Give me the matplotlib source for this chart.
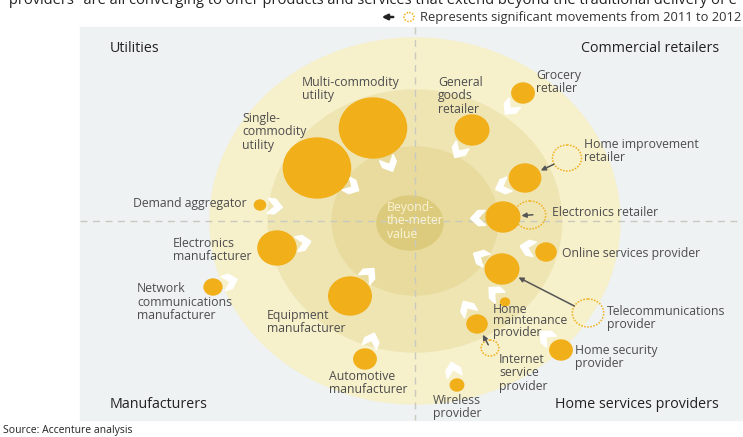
import matplotlib
matplotlib.use('Agg')
import matplotlib.pyplot as plt
from matplotlib.patches import Ellipse, Rectangle, Polygon, FancyArrowPatch
import numpy as np

plt.rcParams['font.family'] = ['Open Sans', 'DejaVu Sans']

# picture is a bit wider than tall: horizontal stretch of every circle
K = 1.12
cx, cy = 415, 221

# bubbles: current positions (x, y, radius)
bx = [373, 317, 260, 277, 213, 350, 365, 472, 523, 525, 503, 546, 502, 505, 477, 561, 457]
by = [128, 168, 205, 248, 287, 296, 359, 130, 93, 178, 217, 252, 269, 302, 324, 350, 385]
br = [30, 30, 5, 17, 8, 19, 10, 15, 10, 14, 15, 9, 15, 4, 9, 10, 6]

# 2011 positions of players that moved (x, y, radius, index of bubble)
old_x = [567, 530, 588, 490]
old_y = [158, 215, 313, 348]
old_r = [13, 14, 14, 8]
old_of = [9, 10, 12, 14]

labels = ['Multi-commodity\nutility', 'Single-\ncommodity\nutility', 'Demand aggregator',
          'Electronics\nmanufacturer', 'Network\ncommunications\nmanufacturer',
          'Equipment\nmanufacturer', 'Automotive\nmanufacturer', 'General\ngoods\nretailer',
          'Grocery\nretailer', 'Home improvement\nretailer', 'Electronics retailer',
          'Online services provider', 'Telecommunications\nprovider',
          'Home\nmaintenance\nprovider', 'Internet\nservice\nprovider',
          'Home security\nprovider', 'Wireless\nprovider']
lx = [302, 242, 247, 173, 137, 267, 329, 438, 536, 584, 552, 562, 607, 493, 499, 575, 433]
ly = [89, 132, 204, 250, 302, 322, 383, 96, 82, 151, 213, 254, 318, 321, 373, 357, 407]
lha = ['left', 'left', 'right'] + ['left'] * 14
lsp = [1.08] * 13 + [0.82] + [1.08] * 3

ring_r = [183, 131, 74]
ring_c = ['#f6f0cb', '#efe5b3', '#e8db9d']

fig = plt.figure(figsize=(7.43, 4.37), dpi=100)
ax = fig.add_axes([0, 0, 1, 1])
ax.set_xlim(0, 743)
ax.set_ylim(437, 0)
ax.axis('off')

ax.add_patch(Rectangle((80, 27), 680, 393, color='#eff2f3', zorder=0))
for r, c in zip(ring_r, ring_c):
    ax.add_patch(Ellipse((cx, cy), 2 * r * K, 2 * r, color=c, zorder=1))
ax.add_patch(Ellipse((410, 223), 66, 54, color='#dccb7c', zorder=2))

ax.plot([cx, cx], [27, 420], ls=(0, (5, 4)), color='#c9c9c0', lw=1, zorder=2)
ax.plot([80, 743], [cy, cy], ls=(0, (5, 4)), color='#c9c9c0', lw=1, zorder=2)

ax.text(387, 221, 'Beyond-\nthe-meter\nvalue', color='#fbf4d6', fontsize=8.8,
        va='center', ha='left', linespacing=1.0, zorder=5)

orange = '#f1af1a'
for x, y, r in zip(bx, by, br):
    ax.add_patch(Ellipse((x, y), 2 * r * K, 2 * r, color=orange, zorder=4))
    # white chevron pointing toward the centre
    d = np.array([cx - x, cy - y], float)
    d /= np.hypot(*d)
    n = np.array([-d[1], d[0]])
    p = np.array([x, y]) + d * (r + 10)
    s = 7.5
    shape = [(-5, -7), (0, -7), (5, 0), (0, 7), (-5, 7), (0, 0)]
    pts = [p + d * u * s / 5 + n * v * s / 7 for u, v in shape]
    ax.add_patch(Polygon(pts, closed=True, color='white', zorder=3))

for x, y, r, i in zip(old_x, old_y, old_r, old_of):
    ax.add_patch(Ellipse((x, y), 2 * r * K, 2 * r, fill=False, ec=orange, ls=(0, (1, 1)),
                         lw=1.1, zorder=4))
    d = np.array([bx[i] - x, by[i] - y], float)
    d /= np.hypot(*d)
    b = np.array([bx[i], by[i]]) - d * (br[i] * 1.05)
    a = np.array([x, y]) + d * (r * 0.9)
    if np.hypot(*(b - a)) < 17:
        a = b - d * 17
    ax.add_patch(FancyArrowPatch(tuple(a), tuple(b), arrowstyle='-|>', mutation_scale=7,
                                 color='#555555', lw=1.1, zorder=5))

for t, x, y, ha, sp in zip(labels, lx, ly, lha, lsp):
    ax.text(x, y, t, fontsize=8.8, color='#4d4d4d', ha=ha, va='center',
            linespacing=sp, zorder=6)

for t, x, y, ha in [('Utilities', 110, 48, 'left'), ('Commercial retailers', 719, 48, 'right'),
                    ('Manufacturers', 110, 404, 'left'),
                    ('Home services providers', 719, 404, 'right')]:
    ax.text(x, y, t, fontsize=10.3, color='#222222', ha=ha, va='center', zorder=6)

# cut-off headline and legend above the panel
ax.text(3, 1, '"providers" are all converging to offer products and services that extend beyond '
        'the traditional delivery of e', fontsize=10.5, color='#222222', ha='left', va='center')
ax.annotate('', xy=(379, 17), xytext=(396, 17),
            arrowprops=dict(arrowstyle='-|>', color='#222222', lw=1.8, mutation_scale=8))
ax.add_patch(Ellipse((409, 17), 10, 9, fill=False, ec=orange, ls=(0, (1, 1)), lw=1.1))
ax.text(420, 17, 'Represents significant movements from 2011 to 2012', fontsize=9.3,
        color='#333333', ha='left', va='center')
ax.text(3, 431, 'Source: Accenture analysis', fontsize=7.5, color='#222222',
        ha='left', va='center')

fig.savefig('out.png', dpi=100)
